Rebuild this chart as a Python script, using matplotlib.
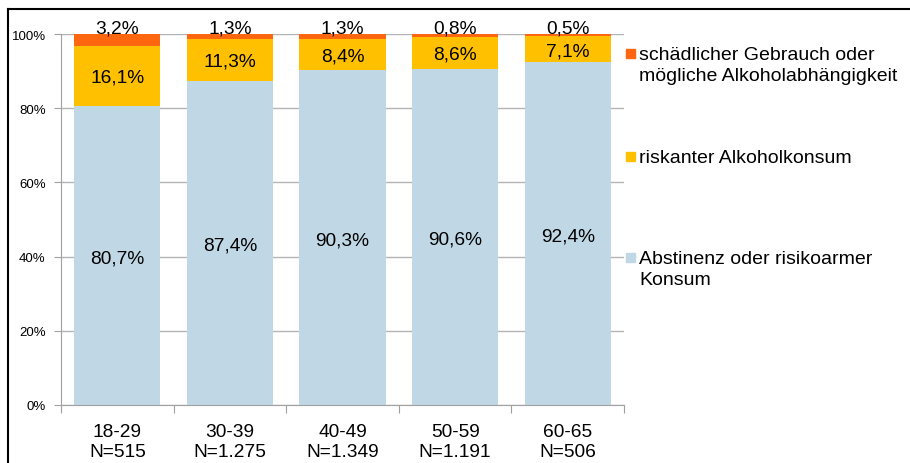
import matplotlib.pyplot as plt
from matplotlib.lines import Line2D
from matplotlib.patches import Rectangle
import numpy as np

plt.rcParams["font.family"] = ["Liberation Sans", "DejaVu Sans"]

groups = ["18-29\nN=515", "30-39\nN=1.275", "40-49\nN=1.349", "50-59\nN=1.191", "60-65\nN=506"]
low_risk = [80.7, 87.4, 90.3, 90.6, 92.4]
risky = [16.1, 11.3, 8.4, 8.6, 7.1]
harmful = [3.2, 1.3, 1.3, 0.8, 0.5]

series_names = [
    "schädlicher Gebrauch oder\nmögliche Alkoholabhängigkeit",
    "riskanter Alkoholkonsum",
    "Abstinenz oder risikoarmer\nKonsum",
]
colors = {"low": "#C0D8E5", "risky": "#FFC000", "harmful": "#FF6610"}

W, H = 910, 464
fig = plt.figure(figsize=(W / 100, H / 100), dpi=100)
ax = fig.add_axes([61 / W, 1 - 406 / H, (624 - 61) / W, (406 - 35) / H])

x = np.arange(len(groups))
low = np.array(low_risk)
rsk = np.array(risky)
harm = np.array(harmful)
bw = 0.765

ax.bar(x, low, bw, color=colors["low"], zorder=2)
ax.bar(x, rsk, bw, bottom=low, color=colors["risky"], zorder=2)
ax.bar(x, harm, bw, bottom=low + rsk, color=colors["harmful"], zorder=2)

fmt = lambda v: f"{v:.1f}%".replace(".", ",")
for i in range(len(groups)):
    ax.text(x[i], low[i] / 2 - 0.6, fmt(low[i]), ha="center", va="center", fontsize=13.8,
            zorder=3)
    ax.text(x[i], low[i] + rsk[i] / 2 - 0.4, fmt(rsk[i]), ha="center", va="center",
            fontsize=13.8, zorder=3)
    ax.text(x[i], 100.3, fmt(harm[i]), ha="center", va="baseline", fontsize=13.8, zorder=3,
            clip_on=False)

ax.set_xlim(-0.5, len(groups) - 0.5)
ax.set_ylim(0, 100)
ax.set_yticks(range(0, 101, 20))
ax.set_yticklabels([f"{t}%" for t in range(0, 101, 20)], fontsize=9.5)
ax.set_xticks(np.arange(-0.5, len(groups), 1.0), minor=False)
ax.set_xticklabels([])
ax.set_xticks(x, minor=True)
ax.set_xticklabels(groups, minor=True, fontsize=13.8, linespacing=1.22)
ax.tick_params(axis="x", which="minor", length=0, pad=13)
ax.tick_params(axis="x", which="major", length=6, color="#A0A0A0")
ax.tick_params(axis="y", length=5, color="#A0A0A0", pad=6)
ax.yaxis.grid(True, color="#B4B4B4", linewidth=1, zorder=0)
ax.set_axisbelow(True)
for side in ["top", "right"]:
    ax.spines[side].set_visible(False)
for side in ["left", "bottom"]:
    ax.spines[side].set_color("#A0A0A0")

# legend drawn by hand: marker squares with text beside them
legend_rows = [
    (series_names[0], colors["harmful"], 54),
    (series_names[1], colors["risky"], 157),
    (series_names[2], colors["low"], 258),
]
for label, col, yc in legend_rows:
    fig.add_artist(Rectangle((626 / W, 1 - (yc + 4.5) / H), 9 / W, 9 / H,
                             transform=fig.transFigure, color=col))
    fig.text(639 / W, 1 - (yc - 7) / H, label, fontsize=14, va="top", ha="left",
             linespacing=1.28)

# outer frame (top and left edges)
fig.add_artist(Line2D([8 / W, 1], [1 - 10 / H, 1 - 10 / H], color="black", lw=1.5,
                      transform=fig.transFigure))
fig.add_artist(Line2D([8 / W, 8 / W], [0, 1 - 10 / H], color="black", lw=1.5,
                      transform=fig.transFigure))

fig.savefig("out.png", dpi=100)
